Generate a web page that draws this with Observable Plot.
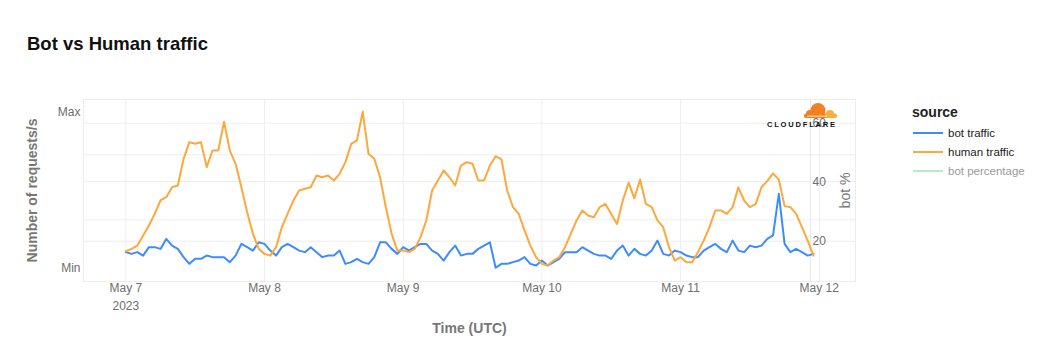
<!DOCTYPE html>
<html>
<head>
<meta charset="utf-8">
<script src="https://cdn.jsdelivr.net/npm/d3@7"></script>
<script src="https://cdn.jsdelivr.net/npm/@observablehq/plot@0.6"></script>
<style>
  html, body { margin: 0; padding: 0; background: #fff; }
  #wrap { position: relative; width: 1040px; height: 360px; font-family: "Liberation Sans", Arial, Helvetica, sans-serif; }
  #chart { position: absolute; left: 0; top: 0; }
  #title { position: absolute; left: 27px; top: 33px; font-size: 18.5px; font-weight: bold; color: #111; }
  #legend { position: absolute; left: 912px; top: 104px; color: #222; }
  #legend .head { font-size: 14px; font-weight: bold; margin-bottom: 3px; }
  #legend .item { display: flex; align-items: center; height: 19.3px; font-size: 11.5px; }
  #legend .item svg { margin-right: 5px; }
  #logo { position: absolute; left: 766px; top: 101px; width: 74px; height: 30px; }
</style>
</head>
<body>
<div id="wrap">
  <div id="chart"></div>
  <div id="title">Bot vs Human traffic</div>
  <div id="legend"></div>
  <div id="logo"></div>
</div>
<script>
// ---- data (normalized: Min = 0, Max = 100), hourly from 2023-05-07 00:00 UTC ----
const humanTraffic = [
  // May 7
  11.1, 12.6, 14.7, 21.2, 27.6, 35.0, 43.6, 45.7, 52.1, 53.2, 70.3, 81.0,
  79.9, 81.0, 65.0, 75.6, 75.6, 94.0, 75.6, 67.1, 52.1, 36.1, 22.2, 12.6,
  // May 8
  9.4, 8.3, 13.7, 26.5, 35.0, 43.6, 50.0, 51.1, 52.1, 59.6, 58.5, 59.6,
  56.4, 60.7, 68.2, 79.9, 82.1, 100.5, 73.5, 70.3, 58.5, 39.3, 22.2, 11.5,
  // May 9
  11.5, 10.5, 12.6, 20.1, 30.8, 50.0, 56.4, 62.8, 58.5, 53.2, 66.0, 68.2,
  67.1, 56.4, 56.4, 66.0, 72.0, 70.0, 50.0, 39.3, 35.0, 24.4, 14.7, 7.3,
  // May 10
  3.0, 1.9, 5.1, 7.3, 13.7, 22.2, 30.8, 37.2, 34.0, 32.9, 39.3, 41.4,
  35.0, 28.6, 43.6, 55.0, 45.0, 57.0, 41.4, 39.3, 30.8, 26.5, 13.7, 5.1,
  // May 11
  7.3, 4.1, 4.1, 10.5, 17.9, 26.5, 37.2, 37.2, 35.0, 39.3, 52.0, 43.6,
  39.3, 41.4, 52.1, 56.0, 61.0, 57.0, 40.0, 39.3, 35.0, 26.5, 17.9, 8.3
];
const botTraffic = [
  // May 7
  10.5, 9.4, 10.5, 8.3, 13.7, 13.7, 12.6, 19.0, 14.7, 12.6, 7.3, 3.0,
  6.2, 6.2, 8.3, 7.3, 7.3, 7.3, 4.1, 8.3, 15.8, 13.7, 11.5, 16.8,
  // May 8
  15.8, 11.5, 8.3, 13.7, 15.8, 13.7, 11.5, 10.5, 13.7, 10.5, 7.3, 8.3,
  8.3, 11.5, 3.0, 4.1, 6.2, 4.1, 3.0, 7.3, 16.8, 16.8, 12.6, 9.4,
  // May 9
  13.7, 11.5, 13.7, 15.8, 15.8, 11.5, 9.4, 5.1, 10.5, 14.7, 8.3, 9.4,
  9.4, 12.6, 14.7, 16.8, 0.5, 3.0, 3.0, 4.1, 5.1, 7.3, 3.0, 1.9,
  // May 10
  5.1, 1.9, 4.1, 6.2, 10.5, 10.5, 10.5, 13.7, 11.5, 9.4, 8.3, 8.3,
  6.2, 11.5, 14.7, 8.3, 12.6, 9.4, 8.3, 11.5, 17.9, 9.4, 8.3, 11.5,
  // May 11
  10.5, 8.3, 7.3, 7.3, 11.5, 13.7, 15.8, 12.6, 10.5, 17.9, 11.5, 10.5,
  14.7, 13.7, 14.7, 19.0, 21.2, 47.9, 15.8, 10.5, 12.6, 10.5, 8.3, 9.4
];
const dayTicks = ["2023-05-07", "2023-05-08", "2023-05-09", "2023-05-10", "2023-05-11", "2023-05-12"];
const leftTicks = [{u: 100, label: "Max"}, {u: 0, label: "Min"}];
const leftGrid = [93.1, 72.9, 55.8, 31.2, 17.5];
const botPctTicks = [20, 40, 60];
const legendItems = [
  {name: "bot traffic", color: "#3d8bfd", muted: false},
  {name: "human traffic", color: "#fda83c", muted: false},
  {name: "bot percentage", color: "#b3ead0", muted: true}
];

// ---- build ----
const H = 3600e3;
const t0 = Date.UTC(2023, 4, 7);
const rows = humanTraffic.map((v, i) => ({t: new Date(t0 + i * H), human: v, bot: botTraffic[i]}));
const days = dayTicks.map(d => new Date(d + "T00:00:00Z"));
const pctToUnit = p => -20.3 + p * 1.89;      // bot % axis -> normalized units
const y2Date = new Date(t0 + 118.48 * H);      // position of the bot % axis line
const fmt = d3.utcFormat("%b %-d");
const tickColor = "#6e6e6e";
const titleColor = "#777";
const font = "'Liberation Sans', Arial, Helvetica, sans-serif";

const chart = Plot.plot({
  width: 1040, height: 360,
  marginLeft: 83, marginRight: 185, marginTop: 99, marginBottom: 79,
  style: {fontFamily: font, background: "transparent", overflow: "visible"},
  x: {type: "utc", domain: [new Date(t0 - 7.32 * H), new Date(t0 + 126.27 * H)], axis: null},
  y: {domain: [-8.3, 108.3], axis: null},
  marks: [
    Plot.frame({stroke: "#ececec"}),
    Plot.ruleY(leftGrid, {stroke: "#eeeeee"}),
    Plot.ruleX(days, {stroke: "#eeeeee"}),
    Plot.ruleX([y2Date], {stroke: "#eaeaea"}),
    Plot.line(rows, {x: "t", y: "bot", stroke: legendItems[0].color, strokeWidth: 2, strokeLinejoin: "round"}),
    Plot.line(rows, {x: "t", y: "human", stroke: legendItems[1].color, strokeWidth: 2, strokeLinejoin: "round"}),
    // x tick labels
    Plot.text(days, {x: d => d, text: d => fmt(d), frameAnchor: "bottom", dy: 7, lineAnchor: "middle", fill: tickColor, fontSize: 12}),
    Plot.text([days[0]], {x: d => d, text: d => d3.utcFormat("%Y")(d), frameAnchor: "bottom", dy: 25, lineAnchor: "middle", fill: tickColor, fontSize: 12}),
    // left tick labels
    Plot.text(leftTicks, {y: "u", text: "label", frameAnchor: "left", dx: -3, textAnchor: "end", fill: tickColor, fontSize: 12}),
    // right (bot %) tick labels
    Plot.text(botPctTicks, {x: () => y2Date, y: d => pctToUnit(d), text: d => String(d), textAnchor: "start", dx: 2, fill: tickColor, fontSize: 12}),
    // axis titles
    Plot.text(["Number of requests/s"], {frameAnchor: "left", dx: -51, rotate: -90, textAnchor: "middle", lineAnchor: "middle", fontSize: 14, fontWeight: "bold", fill: titleColor, text: d => d}),
    Plot.text(["Time (UTC)"], {frameAnchor: "bottom", dy: 47, textAnchor: "middle", lineAnchor: "middle", fontSize: 14, fontWeight: "bold", fill: titleColor, text: d => d}),
    Plot.text(["bot %"], {frameAnchor: "right", dx: -10, rotate: -90, textAnchor: "middle", lineAnchor: "middle", fontSize: 14, fill: titleColor, text: d => d})
  ]
});
document.getElementById("chart").appendChild(chart);

// legend
const lg = document.getElementById("legend");
lg.innerHTML = `<div class="head">source</div>` + legendItems.map(it =>
  `<div class="item"><svg width="31" height="4"><line x1="1" x2="31" y1="2" y2="2" stroke="${it.color}" stroke-width="2"/></svg>` +
  `<span style="color:${it.muted ? "#9a9a9a" : "#222"}">${it.name}</span></div>`).join("");

// Cloudflare logo
document.getElementById("logo").innerHTML = `
<svg width="74" height="30" viewBox="0 0 74 30">
  <g>
    <circle cx="52" cy="9.5" r="7.5" fill="#f38020"/>
    <circle cx="44" cy="13" r="4" fill="#f38020"/>
    <rect x="38" y="12.5" width="24" height="4.5" rx="2" fill="#f38020"/>
    <circle cx="64" cy="13" r="4" fill="#faad3f"/>
    <rect x="59" y="12.5" width="12" height="4.5" rx="2" fill="#faad3f"/>
    <path d="M41 15.2 L61 15.2" stroke="#fff" stroke-width="0.8"/>
  </g>
  <text x="1" y="26" font-family="'Liberation Sans', Arial, sans-serif" font-weight="bold" font-size="7.6" letter-spacing="1.75" fill="#111">CLOUDFLARE</text>
</svg>`;
</script>
</body>
</html>
